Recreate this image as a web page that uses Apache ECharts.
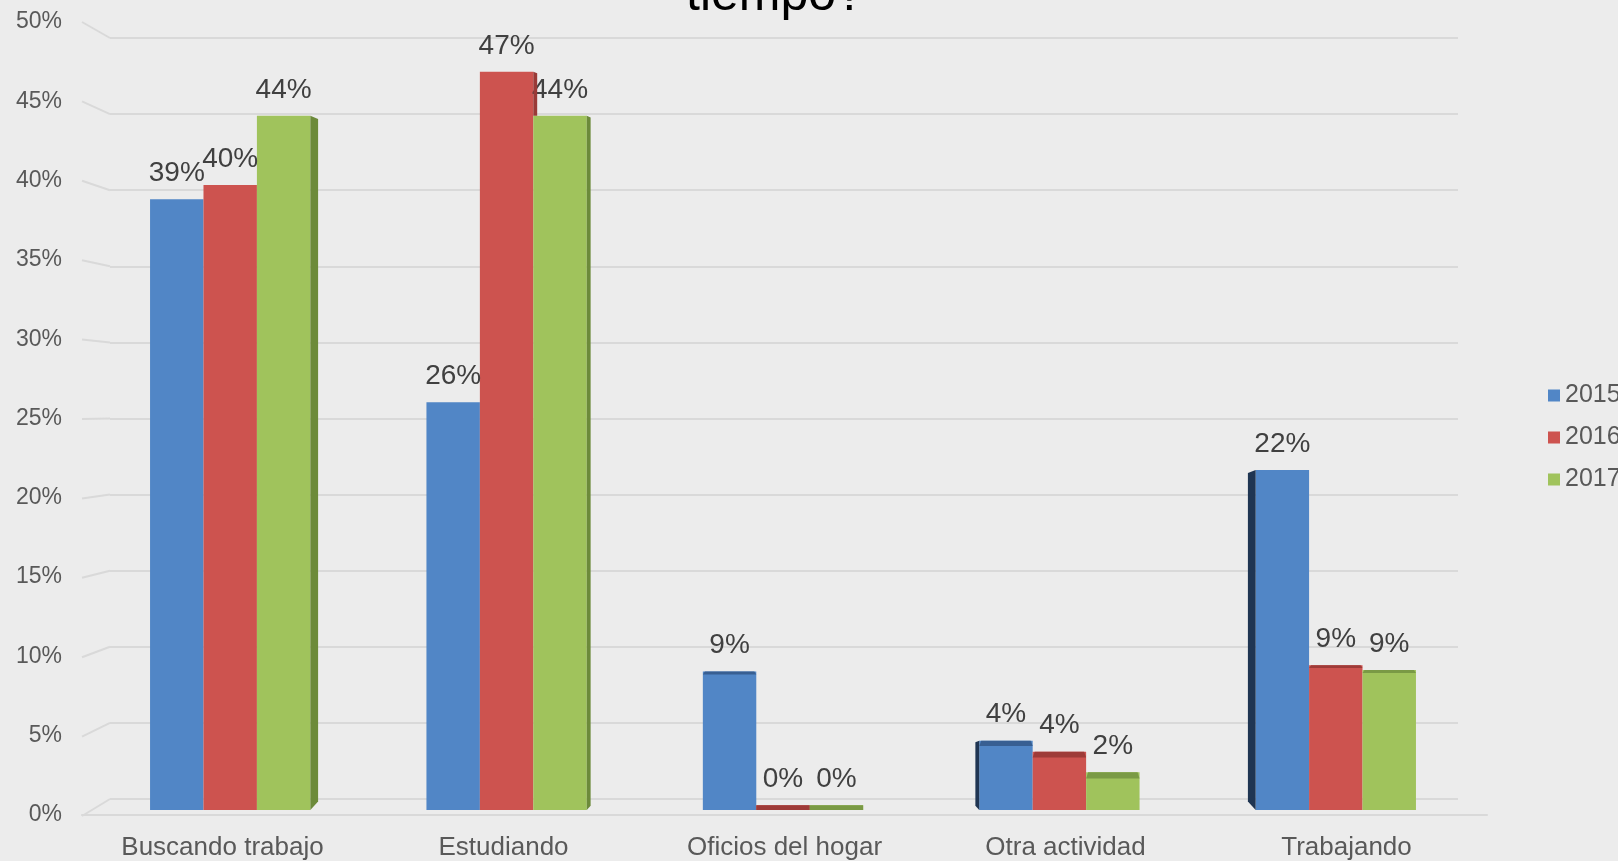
<!DOCTYPE html>
<html><head><meta charset="utf-8">
<script src="https://cdn.jsdelivr.net/npm/echarts@6/dist/echarts.min.js"></script>
<style>html,body{margin:0;padding:0;background:#ECECEC;}#c{width:1618px;height:861px;}</style>
</head><body><div id="c"></div>
<script>
const categories = ['Buscando trabajo', 'Estudiando', 'Oficios del hogar', 'Otra actividad', 'Trabajando'];
const years = ['2015', '2016', '2017'];
const s2015 = [38.8, 25.9, 8.8, 4.4, 21.6];
const s2016 = [39.7, 46.9, 0.3, 3.7, 9.2];
const s2017 = [44.1, 44.1, 0.3, 2.4, 8.9];
const yTicks = [0, 5, 10, 15, 20, 25, 30, 35, 40, 45, 50];
const titleText = 'tiempo?';
const colors = ['#5186C6', '#CD534F', '#A0C35C'];
const sideColors = ['#1F3552', '#9A3A37', '#6C8A3A'];
const topColors = ['#385F92', '#9E3B38', '#7A9A45'];
const allSeries = [s2015, s2016, s2017];
const GAP = 0.42;

// layout: bar grid, back wall grid, front (label) grid
const H = 861, W = 1618;
const gBar = { left: 92, right: 144, top: 23, bottom: 51 };
const gBack = { left: 110, right: 160, top: 38, bottom: 62 };
const gFront = { left: 82, right: 131, top: 22, bottom: 45 };
const K = ((H - gFront.bottom) - gFront.top) / ((H - gBack.bottom) - gBack.top);
const C = (gFront.top - K * gBack.top) / (1 - K);
const DX = gBack.left - gFront.left;

const chart = echarts.init(document.getElementById('c'));
const FONT = 'Liberation Sans, Arial';
const mk = (name, data, i) => ({
  name, type: 'bar', data, barGap: '0%', barCategoryGap: (GAP * 100) + '%',
  xAxisIndex: 0, yAxisIndex: 0,
  itemStyle: { color: colors[i] }, z: 2,
  label: { show: true, position: 'top', distance: 12, fontSize: 28, color: '#404040',
    fontFamily: FONT, formatter: p => Math.round(p.value) + '%' }
});
const faces = (k) => ({
  name: years[k] + '-3d', type: 'custom', z: 3, silent: true,
  xAxisIndex: 0, yAxisIndex: 0,
  data: allSeries[k].map((v, i) => [i, v]),
  encode: { x: 0, y: 1 },
  renderItem: (params, api) => {
    const i = api.value(0), v = api.value(1);
    const band = api.size([1, 0])[0];
    const bw = band * (1 - GAP) / 3;
    const cx = api.coord([i, 0])[0];
    const y0 = api.coord([i, 0])[1];
    const yt = api.coord([i, v])[1];
    const xl = cx + (k - 1.5) * bw, xr = xl + bw;
    const centerX = api.coord([2, 0])[0];
    const d = Math.abs(cx - centerX) * 0.014;
    const children = [];
    if (d > 1) {
      if (cx < centerX) {
        const nb = k === 2 ? null : allSeries[k + 1][i];
        if (nb === null || nb < v) {
          const yb = nb === null ? y0 : api.coord([i, nb])[1];
          children.push({ type: 'polygon', shape: { points: [[xr, yt], [xr + d, yt + 0.4 * d], [xr + d, yb - (nb === null ? 1.1 * d : 0)], [xr, yb]] }, style: { fill: sideColors[k] } });
        }
      } else {
        const nb = k === 0 ? null : allSeries[k - 1][i];
        if (nb === null || nb < v) {
          const yb = nb === null ? y0 : api.coord([i, nb])[1];
          children.push({ type: 'polygon', shape: { points: [[xl, yt], [xl - d, yt + 0.4 * d], [xl - d, yb - (nb === null ? 1.1 * d : 0)], [xl, yb]] }, style: { fill: sideColors[k] } });
        }
      }
    }
    if (v <= 1) {
      children.push({ type: 'rect', shape: { x: xl, y: yt, width: bw, height: y0 - yt }, style: { fill: topColors[k] } });
    } else if (v < 15) {
      const h = Math.max(2, (15 - v) * 0.5);
      children.push({ type: 'polygon', shape: { points: [[xl, yt + h], [xl + 2, yt], [xr - 2, yt], [xr, yt + h]] }, style: { fill: topColors[k] } });
    }
    return { type: 'group', children };
  }
});
// perspective connectors from the front edge to the back wall gridlines
const connectors = {
  type: 'custom', silent: true, z: 1, xAxisIndex: 1, yAxisIndex: 1,
  data: yTicks.map(v => [0, v]),
  renderItem: (params, api) => {
    const p = api.coord([0, api.value(1)]);
    const fy = C + (p[1] - C) * K;
    return { type: 'line', shape: { x1: p[0] - DX, y1: fy, x2: p[0], y2: p[1] },
      style: { stroke: '#D9D9D9', lineWidth: 2 } };
  }
};
chart.setOption({
  backgroundColor: '#ECECEC',
  animation: false,
  graphic: [{ type: 'text', x: 775, y: 21, style: { text: titleText, textAlign: 'center', textVerticalAlign: 'bottom',
    fontSize: 50, fontFamily: FONT, fill: '#000' } }],
  legend: { orient: 'vertical', left: 1543, top: 378, itemWidth: 12, itemHeight: 12, itemGap: 17,
    icon: 'rect', textStyle: { fontSize: 25, lineHeight: 25, color: '#595959', fontFamily: FONT }, data: years },
  grid: [gBar, gBack, gFront],
  xAxis: [
    { type: 'category', data: categories, gridIndex: 0, show: false },
    { type: 'value', gridIndex: 1, min: 0, max: 1, show: false },
    { type: 'category', data: categories, gridIndex: 2,
      axisLine: { lineStyle: { color: '#D9D9D9', width: 2 } }, axisTick: { show: false },
      axisLabel: { fontSize: 26, color: '#595959', fontFamily: FONT, margin: 20 } }
  ],
  yAxis: [
    { type: 'value', gridIndex: 0, min: yTicks[0], max: yTicks[yTicks.length - 1], interval: 5, show: false },
    { type: 'value', gridIndex: 1, min: yTicks[0], max: yTicks[yTicks.length - 1], interval: 5,
      axisLine: { show: false }, axisTick: { show: false }, axisLabel: { show: false },
      splitLine: { lineStyle: { color: '#D9D9D9', width: 2 } } },
    { type: 'value', gridIndex: 2, min: yTicks[0], max: yTicks[yTicks.length - 1], interval: 5,
      axisLine: { show: false }, axisTick: { show: false }, splitLine: { show: false },
      axisLabel: { fontSize: 23, color: '#595959', fontFamily: FONT, margin: 20, formatter: v => v + '%' } }
  ],
  series: [mk(years[0], s2015, 0), mk(years[1], s2016, 1), mk(years[2], s2017, 2), faces(0), faces(1), faces(2), connectors]
});
</script></body></html>
